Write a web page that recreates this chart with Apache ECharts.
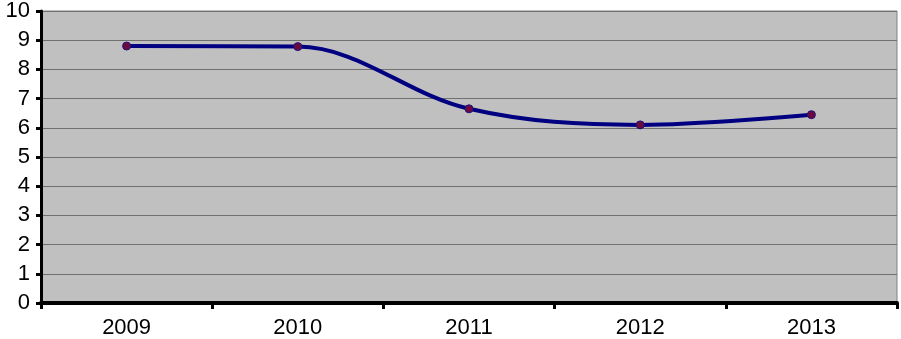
<!DOCTYPE html>
<html><head><meta charset="utf-8">
<script src="https://cdn.jsdelivr.net/npm/echarts@6/dist/echarts.min.js"></script>
<style>html,body{margin:0;padding:0;background:#fff}#c{width:901px;height:339px}</style>
</head><body><div id="c"></div>
<script>
var categories = ['2009','2010','2011','2012','2013'];
var values = [8.8, 8.78, 6.65, 6.1, 6.45];
var chart = echarts.init(document.getElementById('c'), null, {renderer:'canvas'});
chart.setOption({
  animation:false,
  grid:{left:41,right:4,top:9,bottom:36,show:true,backgroundColor:'#c0c0c0',borderColor:'#808080',borderWidth:1},
  xAxis:{type:'category',data:categories,boundaryGap:true,
    axisLine:{lineStyle:{color:'#000',width:4}},
    axisTick:{show:true,length:6,lineStyle:{color:'#000',width:3}},
    axisLabel:{color:'#000',fontFamily:'Liberation Sans, Arial',fontSize:22,margin:14},
    splitLine:{show:false}},
  yAxis:{type:'value',min:0,max:10,interval:1,
    axisLine:{show:true,lineStyle:{color:'#000',width:3}},
    axisTick:{show:true,length:5,lineStyle:{color:'#000',width:3}},
    axisLabel:{color:'#000',fontFamily:'Liberation Sans, Arial',fontSize:22,margin:11},
    splitLine:{lineStyle:{color:'#707070',width:1}}},
  series:[{type:'line',data:values,smooth:0.35,
    lineStyle:{color:'#000080',width:4},
    symbol:'circle',symbolSize:8,
    itemStyle:{color:'#6b0a40',borderColor:'#20107a',borderWidth:1}}]
});
</script></body></html>
